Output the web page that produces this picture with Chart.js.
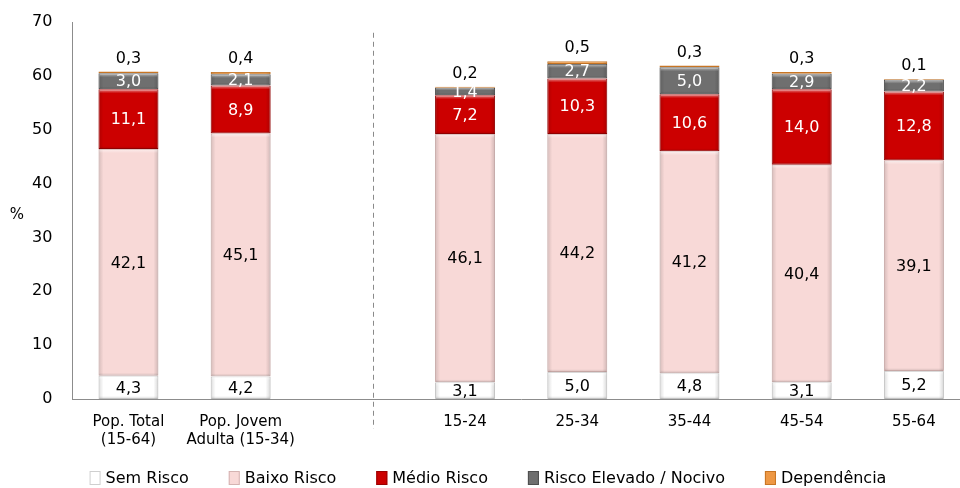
<!DOCTYPE html>
<html>
<head>
<meta charset="utf-8">
<script src="https://cdn.jsdelivr.net/npm/chart.js@4.4.1/dist/chart.umd.min.js"></script>
<style>
  html, body { margin: 0; padding: 0; background: #ffffff; overflow: hidden; }
  #wrap { width: 970px; height: 488px; position: relative; }
</style>
</head>
<body>
<div id="wrap"><canvas id="c"></canvas></div>
<script>
// ---- data ----
const categories = [['Pop. Total', '(15-64)'], ['Pop. Jovem', 'Adulta (15-34)'], '', '15-24', '25-34', '35-44', '45-54', '55-64'];
const seriesNames = ['Sem Risco', 'Baixo Risco', 'Médio Risco', 'Risco Elevado / Nocivo', 'Dependência'];
const semRisco      = [4.3, 4.2, null, 3.1, 5.0, 4.8, 3.1, 5.2];
const baixoRisco    = [42.1, 45.1, null, 46.1, 44.2, 41.2, 40.4, 39.1];
const medioRisco    = [11.1, 8.9, null, 7.2, 10.3, 10.6, 14.0, 12.8];
const riscoElevado  = [3.0, 2.1, null, 1.4, 2.7, 5.0, 2.9, 2.2];
const dependencia   = [0.3, 0.4, null, 0.2, 0.5, 0.3, 0.3, 0.1];
const yMin = 0, yMax = 70, yStep = 10;

// ---- styles ----
const fills   = ['#ffffff', '#f8d9d7', '#cc0000', '#6f6f6f', '#ee9844'];
const borders = ['#cfcfcf', '#d4b3b1', '#9a0000', '#4e4e4e', '#c77524'];
const labelColors = ['#000000', '#000000', '#ffffff', '#ffffff', '#000000'];
const FONT = '"DejaVu Sans", sans-serif';

const seriesData = [semRisco, baixoRisco, medioRisco, riscoElevado, dependencia];

const datasets = seriesData.map((d, i) => ({
  label: seriesNames[i],
  data: d,
  backgroundColor: fills[i],
  borderColor: borders[i],
  borderWidth: 1,
  borderSkipped: false,
  barPercentage: 0.535,
  categoryPercentage: 1.0
}));

const fmt = v => v.toFixed(1).replace('.', ',');

const bevelPlugin = {
  id: 'bevel',
  afterDatasetDraw(chart, args) {
    const ctx = chart.ctx;
    const meta = args.meta;
    meta.data.forEach((bar, j) => {
      const v = chart.data.datasets[args.index].data[j];
      if (v == null) return;
      const w = bar.width, left = bar.x - w / 2, right = bar.x + w / 2;
      const top = Math.min(bar.y, bar.base), bot = Math.max(bar.y, bar.base);
      const h = bot - top;
      if (h < 2) return;
      ctx.save();
      const e = Math.min(5, w / 4);
      let g = ctx.createLinearGradient(left, 0, left + e, 0);
      g.addColorStop(0, 'rgba(0,0,0,0.14)');
      g.addColorStop(1, 'rgba(0,0,0,0)');
      ctx.fillStyle = g; ctx.fillRect(left + 0.5, top + 0.5, e, h - 1);
      g = ctx.createLinearGradient(right - e, 0, right, 0);
      g.addColorStop(0, 'rgba(0,0,0,0)');
      g.addColorStop(1, 'rgba(0,0,0,0.16)');
      ctx.fillStyle = g; ctx.fillRect(right - e - 0.5, top + 0.5, e, h - 1);
      const th = Math.min(4, h / 3);
      g = ctx.createLinearGradient(0, top, 0, top + th);
      g.addColorStop(0, 'rgba(255,255,255,0.55)');
      g.addColorStop(1, 'rgba(255,255,255,0)');
      ctx.fillStyle = g; ctx.fillRect(left + 1, top + 0.5, w - 2, th);
      const bh = Math.min(3, h / 3);
      g = ctx.createLinearGradient(0, bot - bh, 0, bot);
      g.addColorStop(0, 'rgba(0,0,0,0)');
      g.addColorStop(1, 'rgba(0,0,0,0.15)');
      ctx.fillStyle = g; ctx.fillRect(left + 1, bot - bh, w - 2, bh - 0.5);
      ctx.restore();
    });
  }
};

const labelPlugin = {
  id: 'valueLabels',
  afterDatasetsDraw(chart) {
    const ctx = chart.ctx;
    ctx.save();
    ctx.font = '16px ' + FONT;
    ctx.textAlign = 'center';
    ctx.textBaseline = 'middle';
    chart.data.datasets.forEach((ds, i) => {
      const meta = chart.getDatasetMeta(i);
      meta.data.forEach((bar, j) => {
        const v = ds.data[j];
        if (v == null) return;
        ctx.fillStyle = labelColors[i];
        let y;
        if (i === 4) {
          y = bar.y - 13;
        } else {
          y = (bar.y + bar.base) / 2 + 1;
        }
        ctx.fillText(fmt(v), bar.x, y);
      });
    });
    ctx.restore();
  }
};

const decorPlugin = {
  id: 'decor',
  afterDraw(chart) {
    const ctx = chart.ctx;
    const xs = chart.scales.x, ys = chart.scales.y;
    const area = chart.chartArea;
    ctx.save();
    // dashed separator
    const dx = Math.round(xs.getPixelForValue(2.18)) + 0.5;
    ctx.strokeStyle = '#8a8a8a';
    ctx.lineWidth = 1;
    ctx.setLineDash([5, 4]);
    ctx.beginPath();
    ctx.moveTo(dx, ys.getPixelForValue(68));
    ctx.lineTo(dx, area.bottom + 30);
    ctx.stroke();
    ctx.setLineDash([]);
    // % unit label
    ctx.fillStyle = '#000';
    ctx.font = '15px ' + FONT;
    ctx.textAlign = 'center';
    ctx.textBaseline = 'middle';
    ctx.fillText('%', 17, (area.top + area.bottom) / 2 + 5);

    // custom legend
    ctx.font = '16px ' + FONT;
    ctx.textAlign = 'left';
    const boxW = 11, boxH = 14, boxGap = 5, itemGap = 40;
    const widths = chart.data.datasets.map(ds => boxW + boxGap + ctx.measureText(ds.label).width);
    const total = widths.reduce((a, b) => a + b, 0) + itemGap * (widths.length - 1);
    let lx = 488 - total / 2;
    const ly = 478;
    chart.data.datasets.forEach((ds, i) => {
      ctx.fillStyle = fills[i];
      ctx.fillRect(lx, ly - boxH / 2, boxW, boxH);
      ctx.strokeStyle = borders[i];
      ctx.lineWidth = 1;
      ctx.strokeRect(lx + 0.5, ly - boxH / 2 + 0.5, boxW - 1, boxH - 1);
      ctx.fillStyle = '#000';
      ctx.fillText(ds.label, lx + boxW + boxGap, ly + 1);
      lx += widths[i] + itemGap;
    });
    ctx.restore();
  }
};

new Chart(document.getElementById('c'), {
  type: 'bar',
  data: { labels: categories, datasets },
  options: {
    responsive: true,
    maintainAspectRatio: false,
    animation: false,
    layout: { padding: { top: 22, left: 12, right: 0, bottom: 25 } },
    plugins: {
      legend: { display: false },
      tooltip: { enabled: false }
    },
    scales: {
      x: {
        stacked: true,
        grid: { display: false, drawTicks: false },
        border: { display: true, color: '#8c8c8c', width: 1 },
        ticks: { font: { family: FONT, size: 15 }, color: '#000', padding: 14, maxRotation: 0, autoSkip: false }
      },
      y: {
        stacked: true,
        min: yMin, max: yMax,
        afterFit(scale) { scale.paddingTop = 0; scale.paddingBottom = 0; },
        grid: { display: false, drawTicks: false },
        border: { display: true, color: '#8c8c8c', width: 1 },
        ticks: { stepSize: yStep, font: { family: FONT, size: 16 }, color: '#000', padding: 20 }
      }
    }
  },
  plugins: [bevelPlugin, labelPlugin, decorPlugin]
});
</script>
</body>
</html>
